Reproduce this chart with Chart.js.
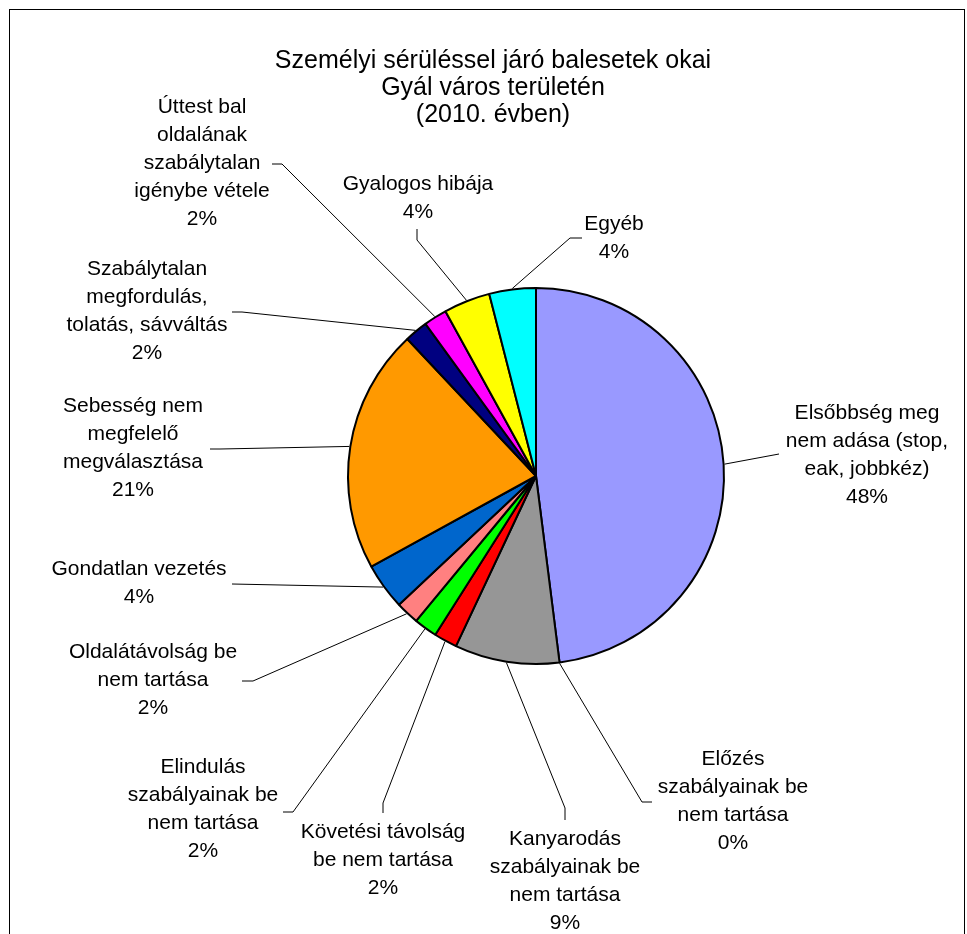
<!DOCTYPE html>
<html lang="hu">
<head>
<meta charset="utf-8">
<title>Személyi sérüléssel járó balesetek okai</title>
<script src="https://cdn.jsdelivr.net/npm/chart.js@4/dist/chart.umd.min.js"></script>
<style>
  html, body { margin: 0; padding: 0; background: #fff; }
  #wrap { position: relative; width: 967px; height: 934px; }
</style>
</head>
<body>
<div id="wrap"><canvas id="okokChart" width="967" height="934"></canvas></div>
<script>
// Balesetek okai, 2010 (százalék)
const titleLines = ["Személyi sérüléssel járó balesetek okai", "Gyál város területén", "(2010. évben)"];

const categories = [
    ["Elsőbbség meg", "nem adása (stop,", "eak, jobbkéz)"],
    ["Előzés", "szabályainak be", "nem tartása"],
    ["Kanyarodás", "szabályainak be", "nem tartása"],
    ["Követési távolság", "be nem tartása"],
    ["Elindulás", "szabályainak be", "nem tartása"],
    ["Oldalátávolság be", "nem tartása"],
    ["Gondatlan vezetés"],
    ["Sebesség nem", "megfelelő", "megválasztása"],
    ["Szabálytalan", "megfordulás,", "tolatás, sávváltás"],
    ["Úttest bal", "oldalának", "szabálytalan", "igénybe vétele"],
    ["Gyalogos hibája"],
    ["Egyéb"],
];

const shares = [48, 0, 9, 2, 2, 2, 4, 21, 2, 2, 4, 4];

const sliceColors = [
    "#9999FF", "#993366", "#969696", "#FF0000", "#00FF00", "#FF8080",
    "#0066CC", "#FF9900", "#000080", "#FF00FF", "#FFFF00", "#00FFFF",
];

// címkék helye a kör közepéhez képest: t = szöveg (első sor közepe),
// e = vezetővonal töréspontja, k = vonal vége a szöveg mellett
const labelSpots = [
    { tx: 331, ty: -63, ex: 243, ey: -22 },
    { tx: 197, ty: 283, ex: 106, ey: 326, kx: 116, ky: 326 },
    { tx: 29, ty: 363, ex: 29, ey: 332, kx: 29, ky: 344 },
    { tx: -153, ty: 356, ex: -153, ey: 327, kx: -153, ky: 337 },
    { tx: -333, ty: 291, ex: -243, ey: 336, kx: -253, ky: 336 },
    { tx: -383, ty: 176, ex: -283, ey: 205, kx: -294, ky: 205 },
    { tx: -397, ty: 93, ex: -304, ey: 108 },
    { tx: -403, ty: -70, ex: -316, ey: -27, kx: -326, ky: -27 },
    { tx: -389, ty: -207, ex: -294, ey: -164, kx: -304, ky: -164 },
    { tx: -334, ty: -369, ex: -254, ey: -312, kx: -264, ky: -312 },
    { tx: -118, ty: -292, ex: -119, ey: -236, kx: -119, ky: -247 },
    { tx: 78, ty: -252, ex: 34, ey: -238, kx: 46, ky: -238 },
];

const FONT = '"Liberation Sans", Arial, sans-serif';
const LINE_GAP = 28;

// keret + cím
const framePlugin = {
    id: "frameAndTitle",
    beforeDraw(chart) {
        const ctx = chart.ctx;
        ctx.save();
        ctx.fillStyle = "#fff";
        ctx.fillRect(0, 0, chart.width, chart.height);
        ctx.strokeStyle = "#000";
        ctx.lineWidth = 1;
        ctx.strokeRect(9.5, 9.5, 955, chart.height + 20);
        ctx.fillStyle = "#000";
        ctx.font = "25px " + FONT;
        ctx.textAlign = "center";
        ctx.textBaseline = "middle";
        titleLines.forEach((t, i) => ctx.fillText(t, 493, 61 + i * 27));
        ctx.restore();
    },
};

// külső címkék vezetővonallal
const outsideLabels = {
    id: "outsideLabels",
    afterDatasetsDraw(chart) {
        const ctx = chart.ctx;
        const arcs = chart.getDatasetMeta(0).data;
        const values = chart.data.datasets[0].data;
        const total = values.reduce((a, b) => a + b, 0);
        ctx.save();
        ctx.strokeStyle = "#000";
        ctx.lineWidth = 1;
        ctx.fillStyle = "#000";
        ctx.font = "21px " + FONT;
        ctx.textAlign = "center";
        ctx.textBaseline = "middle";
        arcs.forEach((arc, i) => {
            const p = arc.getProps(["x", "y", "startAngle", "endAngle", "outerRadius"], true);
            const mid = (p.startAngle + p.endAngle) / 2;
            const sx = p.x + Math.cos(mid) * (p.outerRadius + 1);
            const sy = p.y + Math.sin(mid) * (p.outerRadius + 1);
            const s = labelSpots[i];
            ctx.beginPath();
            ctx.moveTo(sx, sy);
            ctx.lineTo(p.x + s.ex, p.y + s.ey);
            if (s.kx !== undefined) ctx.lineTo(p.x + s.kx, p.y + s.ky);
            ctx.stroke();

            const pct = Math.round((values[i] / total) * 100) + "%";
            const lines = [...categories[i], pct];
            lines.forEach((ln, j) => ctx.fillText(ln, p.x + s.tx, p.y + s.ty + j * LINE_GAP));
        });
        ctx.restore();
    },
};

const ctx = document.getElementById("okokChart").getContext("2d");
const okokChart = new Chart(ctx, {
    type: "pie",
    data: {
        labels: categories,
        datasets: [
            {
                data: shares,
                backgroundColor: sliceColors,
                borderColor: "#000",
                borderWidth: 2,
            },
        ],
    },
    options: {
        responsive: false,
        animation: false,
        layout: {
            padding: { left: 347, right: 242, top: 287, bottom: 269 },
        },
        plugins: {
            legend: { display: false },
            title: { display: false },
            tooltip: { enabled: false },
        },
    },
    plugins: [framePlugin, outsideLabels],
});
</script>
</body>
</html>
